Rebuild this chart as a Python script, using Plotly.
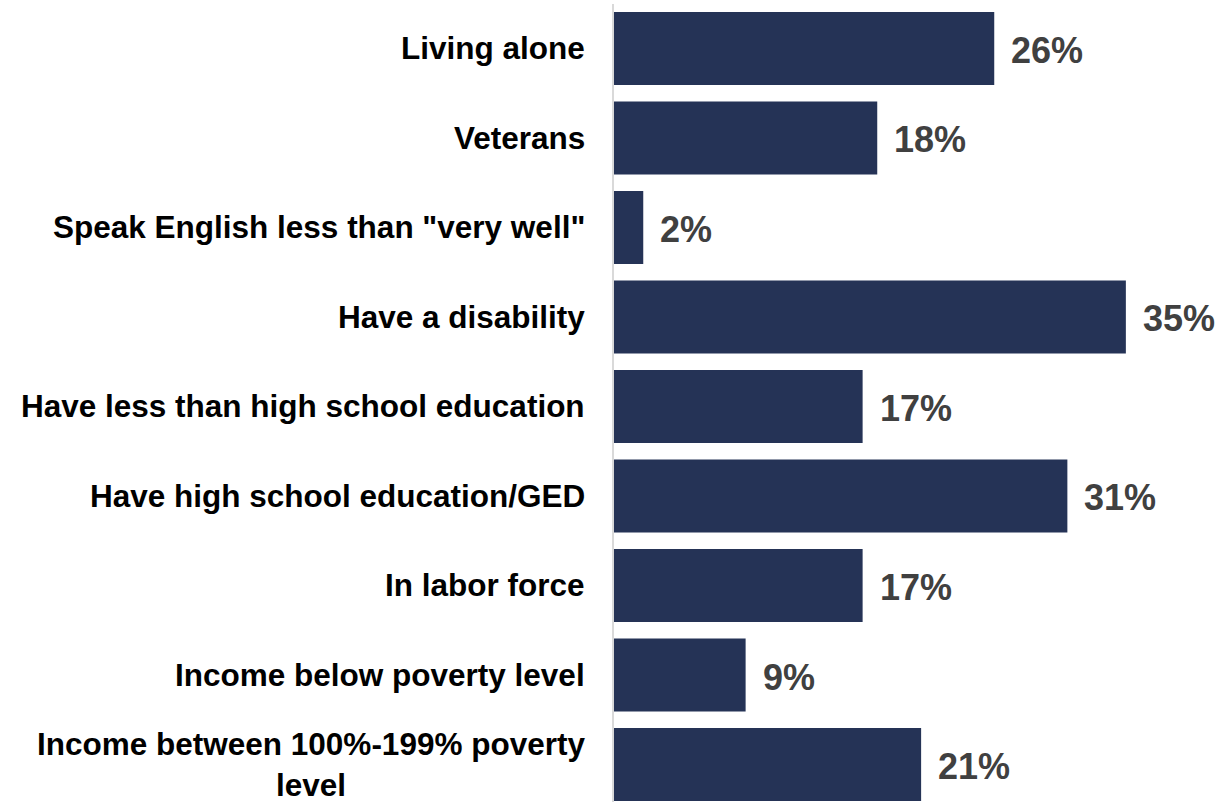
import plotly.graph_objects as go

categories = [
    "Living alone",
    "Veterans",
    "Speak English less than \"very well\"",
    "Have a disability",
    "Have less than high school education",
    "Have high school education/GED",
    "In labor force",
    "Income below poverty level",
    "Income between 100%-199% poverty<br>level",
]
values = [26, 18, 2, 35, 17, 31, 17, 9, 21]
value_labels = ["26%", "18%", "2%", "35%", "17%", "31%", "17%", "9%", "21%"]

BAR = "#253356"
FONT = "Liberation Sans, Arial, sans-serif"

fig = go.Figure()
fig.add_trace(go.Bar(
    x=values, y=categories, orientation="h",
    marker=dict(color=BAR, line=dict(width=0)),
    hoverinfo="skip",
))

annotations = []
for c, v, t in zip(categories, values, value_labels):
    annotations.append(dict(
        x=v, y=c, xref="x", yref="y", text=f"<b>{t}</b>",
        showarrow=False, xanchor="left", yanchor="middle", xshift=15, yshift=-2,
        font=dict(family=FONT, size=36, color="#404040"),
    ))
    annotations.append(dict(
        x=0, y=c, xref="paper", yref="y", text=f"<b>{c}</b>",
        showarrow=False, xanchor="right", yanchor="middle", xshift=-27,
        align="center",
        font=dict(family=FONT, size=31.5, color="#000000"),
    ))

fig.update_layout(
    width=1218, height=803,
    margin=dict(l=614, r=0, t=4, b=1),
    paper_bgcolor="white", plot_bgcolor="white",
    bargap=0.184,
    showlegend=False,
    annotations=annotations,
    xaxis=dict(range=[0, 41.3], visible=False, showgrid=False, zeroline=False),
    yaxis=dict(
        type="category",
        categoryorder="array", categoryarray=categories,
        range=[8.419, -0.497],
        showticklabels=False, ticks="", showgrid=False, zeroline=False,
        showline=True, linecolor="#d9d9d9", linewidth=2,
    ),
)

fig.write_html("out.html", config={"displayModeBar": False},
               post_script="document.body.style.margin='0';")
